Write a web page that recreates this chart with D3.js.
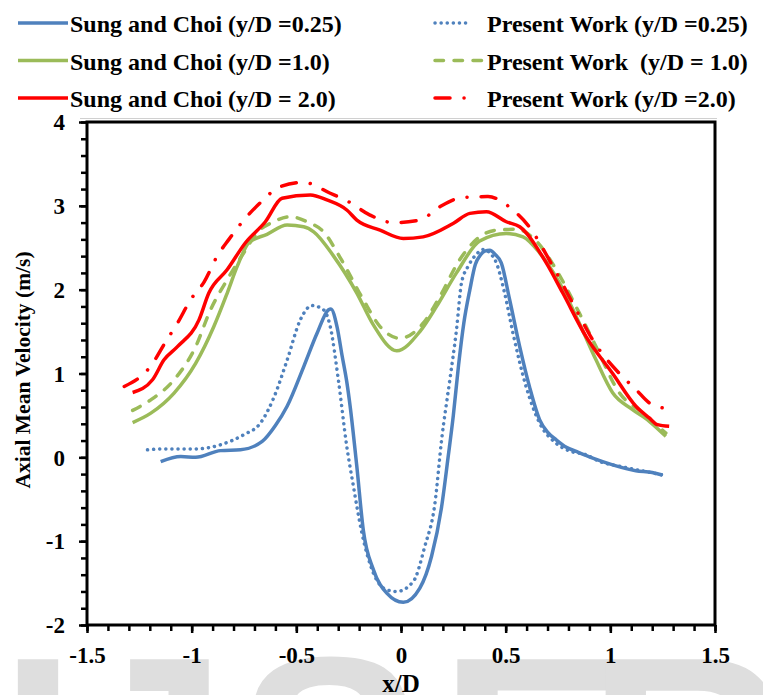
<!DOCTYPE html>
<html>
<head>
<meta charset="utf-8">
<script src="https://cdn.jsdelivr.net/npm/d3@7"></script>
<style>
  body { margin: 0; background: #fff; }
  svg { display: block; }
  text { font-family: "Liberation Serif", "Times New Roman", serif; font-weight: bold; fill: #000; }
</style>
</head>
<body>
<svg id="svg1" width="763" height="695"></svg>
<script>
// data: [x/D, axial mean velocity]
var sung025 = [[-1.148,-0.05],[-1.052,0.01],[-0.981,0.0],[-0.862,0.08],[-0.767,0.09],[-0.663,0.19],[-0.60,0.38],[-0.544,0.61],
  [-0.465,1.08],[-0.401,1.48],[-0.346,1.76],[-0.335,1.77],[-0.305,1.55],[-0.282,1.22],[-0.259,0.90],[-0.243,0.61],
  [-0.211,-0.11],[-0.18,-0.87],[-0.132,-1.34],[-0.068,-1.62],[0.011,-1.73],[0.09,-1.56],[0.146,-1.18],[0.194,-0.59],
  [0.225,0.0],[0.25,0.5],[0.275,1.1],[0.30,1.6],[0.329,2.0],[0.355,2.3],[0.376,2.40],[0.40,2.46],[0.424,2.47],
  [0.45,2.42],[0.479,2.32],[0.519,1.88],[0.567,1.32],[0.614,0.84],[0.662,0.45],[0.70,0.30],[0.741,0.21],[0.79,0.12],
  [0.837,0.07],[0.916,-0.01],[1.011,-0.09],[1.122,-0.16],[1.20,-0.18],[1.249,-0.21]];
var present025 = [[-1.211,0.09],[-1.132,0.10],[-0.989,0.10],[-0.862,0.15],[-0.751,0.27],[-0.671,0.41],[-0.608,0.71],
  [-0.544,1.16],[-0.481,1.64],[-0.425,1.81],[-0.37,1.76],[-0.338,1.56],[-0.299,0.92],[-0.259,0.13],[-0.227,-0.35],
  [-0.187,-0.90],[-0.132,-1.38],[-0.068,-1.58],[-0.02,-1.60],[0.059,-1.48],[0.114,-1.06],[0.162,-0.55],[0.194,0.21],
  [0.233,0.92],[0.265,1.52],[0.289,2.08],[0.321,2.28],[0.36,2.42],[0.392,2.48],[0.448,2.36],[0.495,1.96],[0.535,1.48],
  [0.598,0.84],[0.662,0.41],[0.74,0.17],[0.80,0.08],[0.884,0.03],[0.95,-0.05],[1.05,-0.11],[1.15,-0.16],[1.249,-0.21]];
var sung10 = [[-1.282,0.415],[-1.195,0.527],[-1.084,0.766],[-0.981,1.12],[-0.894,1.56],[-0.83,1.96],[-0.782,2.28],
  [-0.727,2.56],[-0.640,2.66],[-0.544,2.77],[-0.465,2.75],[-0.417,2.69],[-0.322,2.40],[-0.211,1.96],[-0.132,1.58],
  [-0.02,1.27],[0.09,1.50],[0.17,1.80],[0.265,2.20],[0.376,2.58],[0.503,2.67],[0.583,2.63],[0.662,2.44],[0.757,2.08],
  [0.852,1.60],[0.932,1.16],[1.011,0.77],[1.106,0.57],[1.186,0.43],[1.265,0.25]];
var present10 = [[-1.282,0.56],[-1.195,0.686],[-1.084,0.925],[-0.981,1.32],[-0.91,1.76],[-0.83,2.12],[-0.751,2.44],
  [-0.687,2.68],[-0.608,2.81],[-0.529,2.87],[-0.449,2.81],[-0.370,2.69],[-0.29,2.38],[-0.18,1.88],[-0.1,1.56],
  [-0.005,1.42],[0.106,1.60],[0.186,1.92],[0.281,2.36],[0.376,2.63],[0.456,2.71],[0.551,2.72],[0.646,2.58],
  [0.741,2.24],[0.852,1.72],[0.932,1.32],[1.043,0.77],[1.154,0.53],[1.265,0.29]];
var sung20 = [[-1.282,0.773],[-1.187,0.925],[-1.132,1.163],[-1.068,1.32],[-0.965,1.64],[-0.918,1.96],[-0.83,2.24],
  [-0.743,2.56],[-0.648,2.81],[-0.568,3.09],[-0.433,3.13],[-0.354,3.07],[-0.259,2.95],[-0.211,2.83],[-0.1,2.71],
  [0.011,2.61],[0.106,2.63],[0.249,2.79],[0.329,2.91],[0.408,2.93],[0.503,2.81],[0.567,2.75],[0.694,2.32],
  [0.773,1.96],[0.884,1.44],[1.011,1.00],[1.122,0.61],[1.186,0.47],[1.225,0.39],[1.281,0.37]];
var present20 = [[-1.322,0.845],[-1.195,1.09],[-1.124,1.38],[-1.068,1.60],[-1.005,1.88],[-0.941,2.09],[-0.878,2.40],
  [-0.822,2.60],[-0.751,2.83],[-0.671,3.04],[-0.576,3.23],[-0.465,3.28],[-0.338,3.15],[-0.251,3.05],[-0.148,2.89],
  [-0.037,2.80],[0.09,2.83],[0.186,2.99],[0.297,3.10],[0.416,3.11],[0.535,2.95],[0.606,2.77],[0.725,2.28],
  [0.837,1.76],[0.916,1.40],[1.043,1.00],[1.122,0.81],[1.186,0.65],[1.249,0.59]];

var seriesNames = ['Sung and Choi (y/D =0.25)', 'Present Work (y/D =0.25)',
                   'Sung and Choi (y/D =1.0)', 'Present Work  (y/D = 1.0)',
                   'Sung and Choi (y/D = 2.0)', 'Present Work (y/D =2.0)'];
var seriesData = [sung025, present025, sung10, present10, sung20, present20];
var xTicks = [-1.5, -1, -0.5, 0, 0.5, 1, 1.5];
var yTicks = [-2, -1, 0, 1, 2, 3, 4];

// line styles
var colors = ['#4f81bd', '#4f81bd', '#9bbb59', '#9bbb59', '#ff0000', '#ff0000'];
var dashes = [null, '0.1 6', null, '8.5 10.5', null, '15 14 0.1 14'];

var svg = d3.select('#svg1');

// faint watermark behind everything (only its top shows)
var mark = svg.append('g');
[['I', 38], ['J', 150], ['S', 330], ['E', 532], ['R', 688]].forEach(function(m){
  mark.append('text').attr('x', m[1]).attr('y', 852).attr('text-anchor', 'middle')
      .style('font-family', '"Liberation Sans", Arial, sans-serif')
      .style('font-size', '280px').style('fill', '#dedede').text(m[0]);
});

var scaleX = d3.scaleLinear().domain([-1.5, 1.5]).range([87, 715]);
var scaleY = d3.scaleLinear().domain([-2, 4]).range([625, 122]);

// faint outer edge above the frame
svg.append('line').attr('x1', 80).attr('x2', 717).attr('y1', 118.5).attr('y2', 118.5)
   .attr('stroke', '#d0d0d0').attr('stroke-width', 1);

// minor ticks
var g = svg.append('g');
g.append('g').attr('transform', 'translate(0,625)')
  .call(d3.axisBottom(scaleX).tickValues(d3.range(-15, 16).map(function(d){return d/10;})).tickSize(6).tickFormat(''))
  .call(function(a){ a.select('.domain').remove(); a.selectAll('line').attr('stroke-width', 2.5); });
g.append('g').attr('transform', 'translate(87,0)')
  .call(d3.axisLeft(scaleY).tickValues(d3.range(-10, 21).map(function(d){return d/5;})).tickSize(6).tickFormat(''))
  .call(function(a){ a.select('.domain').remove(); a.selectAll('line').attr('stroke-width', 2.5); });

// major ticks + labels
g.append('g').attr('transform', 'translate(0,625)')
  .attr('font-family', '"Liberation Serif", serif')
  .call(d3.axisBottom(scaleX).tickValues(xTicks).tickSize(8).tickFormat(function(d){return String(d);}))
  .call(function(a){
    a.attr('font-family', '"Liberation Serif", serif').attr('font-size', 23);
    a.select('.domain').remove();
    a.selectAll('line').attr('stroke-width', 2.5);
    a.selectAll('text').attr('y', 38).attr('dy', 0).style('font-size', '23px')
      .style('font-family', '"Liberation Serif", serif').style('font-weight', 'bold').attr('fill', '#000');
  });
g.append('g').attr('transform', 'translate(87,0)')
  .call(d3.axisLeft(scaleY).tickValues(yTicks).tickSize(8).tickPadding(14).tickFormat(function(d){return String(d);}))
  .call(function(a){
    a.attr('font-family', '"Liberation Serif", serif').attr('font-size', 23);
    a.select('.domain').remove();
    a.selectAll('line').attr('stroke-width', 2.5);
    a.selectAll('text').attr('dy', '0.34em').style('font-size', '23px')
      .style('font-family', '"Liberation Serif", serif').style('font-weight', 'bold').attr('fill', '#000');
  });

// frame
svg.append('rect').attr('x', 87).attr('y', 122).attr('width', 628).attr('height', 503)
   .attr('fill', 'none').attr('stroke', '#000').attr('stroke-width', 3);

// curves
var line = d3.line()
    .x(function(d){ return scaleX(d[0]); })
    .y(function(d){ return scaleY(d[1]); })
    .curve(d3.curveMonotoneX);

svg.selectAll('.curve')
  .data(seriesData)
  .enter().append('path')
  .attr('class', 'curve')
  .attr('d', line)
  .attr('fill', 'none')
  .attr('stroke', function(d, i){ return colors[i]; })
  .attr('stroke-width', 3.5)
  .attr('stroke-linecap', function(d, i){ return dashes[i] ? 'round' : 'butt'; })
  .attr('stroke-linejoin', 'round')
  .attr('stroke-dasharray', function(d, i){ return dashes[i]; });

// axis titles
svg.append('text').attr('transform', 'translate(30,370) rotate(-90)')
   .attr('text-anchor', 'middle').style('font-size', '21.5px').text('Axial Mean Velocity (m/s)');
svg.append('text').attr('x', 401).attr('y', 692)
   .attr('text-anchor', 'middle').style('font-size', '25px').text('x/D');

// legend: two columns, three rows
var legend = svg.selectAll('.legend')
  .data(seriesNames)
  .enter().append('g')
  .attr('class', 'legend')
  .attr('transform', function(d, i){
    var col = i % 2, row = Math.floor(i / 2);
    return 'translate(' + (col ? 433 : 18) + ',' + (32 + row * 37.5) + ')';
  });
legend.append('line')
  .attr('x1', function(d, i){ return dashes[i] ? 2 : 0; })
  .attr('x2', function(d, i){ return i === 1 ? 36 : (i === 5 ? 37 : 50); })
  .attr('y1', -9).attr('y2', -9)
  .attr('stroke', function(d, i){ return colors[i]; })
  .attr('stroke-width', 3.5)
  .attr('stroke-linecap', function(d, i){ return dashes[i] ? 'round' : 'butt'; })
  .attr('stroke-dasharray', function(d, i){ return dashes[i]; });
legend.append('text')
  .attr('x', function(d, i){ return i % 2 ? 54 : 52; })
  .attr('y', 0)
  .style('font-size', '24px')
  .style('white-space', 'pre')
  .text(function(d){ return d; });
</script>
</body>
</html>
